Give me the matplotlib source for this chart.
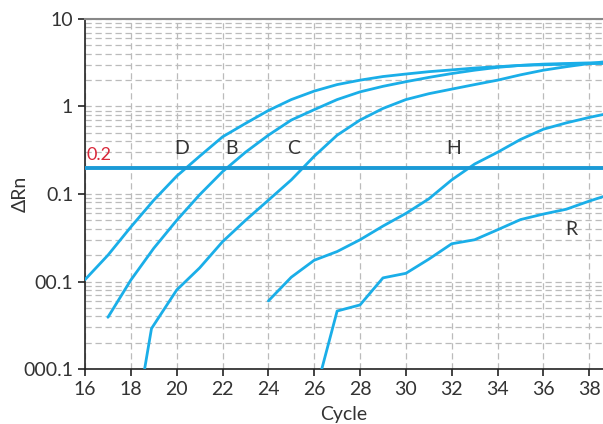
import matplotlib.pyplot as plt
from matplotlib.ticker import LogLocator, NullFormatter

# cycles and delta Rn values
cycles_d = [16, 17, 18, 19, 20, 21, 22, 23, 24, 25, 26, 27, 28, 29, 30, 31, 32, 33, 34, 35, 36, 37, 38, 38.7]
rn_d = [0.0105, 0.02, 0.042, 0.085, 0.16, 0.27, 0.45, 0.64, 0.9, 1.2, 1.5, 1.78, 2.0, 2.2, 2.35, 2.5,
        2.62, 2.75, 2.85, 2.95, 3.0, 3.05, 3.1, 3.1]

cycles_b = [17, 18, 19, 20, 21, 22, 23, 24, 25, 26, 27, 28, 29, 30, 31, 32, 33, 34, 35, 36, 37, 38, 38.7]
rn_b = [0.0039, 0.0104, 0.024, 0.05, 0.098, 0.18, 0.3, 0.47, 0.7, 0.92, 1.2, 1.47, 1.7, 1.92, 2.15, 2.38,
        2.6, 2.8, 2.95, 3.05, 3.1, 3.15, 3.15]

cycles_c = [18.6, 18.9, 20, 21, 22, 23, 24, 25, 26, 27, 28, 29, 30, 31, 32, 33, 34, 35, 36, 37, 38, 38.7]
rn_c = [0.001, 0.0029, 0.008, 0.0143, 0.0285, 0.05, 0.085, 0.145, 0.27, 0.47, 0.7, 0.95, 1.2, 1.4, 1.58,
        1.78, 2.0, 2.3, 2.6, 2.85, 3.1, 3.25]

cycles_h = [24, 25, 26, 27, 28, 29, 30, 31, 32, 33, 34, 35, 36, 37, 38, 38.7]
rn_h = [0.006, 0.0112, 0.0175, 0.022, 0.03, 0.043, 0.06, 0.088, 0.145, 0.22, 0.3, 0.42, 0.55, 0.65,
        0.75, 0.82]

cycles_r = [26.33, 27, 28, 29, 30, 31, 32, 33, 34, 35, 36, 37, 38, 38.7]
rn_r = [0.001, 0.0046, 0.0054, 0.011, 0.0124, 0.018, 0.027, 0.030, 0.039, 0.051, 0.059, 0.067, 0.083, 0.095]

threshold = 0.2

curve_labels = ["D", "B", "C", "H", "R"]
label_x = [20.2, 22.4, 25.1, 32.1, 37.2]
label_y = [0.33, 0.33, 0.33, 0.33, 0.039]

y_ticks = [0.001, 0.01, 0.1, 1, 10]
y_tick_labels = ["000.1", "00.1", "0.1", "1", "10"]
x_ticks = list(range(16, 39, 2))

plt.rcParams["font.family"] = ["Lato", "DejaVu Sans"]

fig = plt.figure(figsize=(6.03, 4.24), dpi=100)
ax = fig.add_axes([0.141, 0.1297, 0.859, 0.8255])

line_col = "#1aaee8"
for cx, cy in [(cycles_d, rn_d), (cycles_b, rn_b), (cycles_c, rn_c), (cycles_h, rn_h), (cycles_r, rn_r)]:
    ax.plot(cx, cy, color=line_col, lw=2, solid_capstyle="round", zorder=3)

ax.axhline(threshold, color="#1b9ad6", lw=2.8, zorder=4)
ax.text(16.05, threshold * 1.12, "0.2", color="#d8283a", fontsize=13, va="bottom", ha="left")

for lab, lx, ly in zip(curve_labels, label_x, label_y):
    ax.text(lx, ly, lab, fontsize=14, color="#333333", ha="center", va="center")

ax.set_yscale("log")
ax.set_ylim(0.001, 10)
ax.set_xlim(16, 38.6)
ax.set_yticks(y_ticks)
ax.set_yticklabels(y_tick_labels)
ax.yaxis.set_minor_locator(LogLocator(base=10, subs=range(2, 10)))
ax.yaxis.set_minor_formatter(NullFormatter())
ax.set_xticks(x_ticks)

ax.grid(True, which="both", axis="y", color="#bbbbbb", ls=(0, (5, 3)), lw=0.9)
ax.grid(True, which="major", axis="x", color="#bbbbbb", ls=(0, (5, 3)), lw=0.9)
ax.set_axisbelow(True)

ax.tick_params(which="major", length=5, width=1.2, color="#222222", labelsize=14, labelcolor="#333333")
ax.tick_params(which="minor", length=0)

ax.spines["right"].set_visible(False)
ax.spines["top"].set_color("#888888")
ax.spines["top"].set_linewidth(1.5)
ax.spines["left"].set_color("#222222")
ax.spines["bottom"].set_color("#222222")
ax.spines["left"].set_linewidth(1.2)
ax.spines["bottom"].set_linewidth(1.2)

ax.set_xlabel("Cycle", fontsize=14, color="#333333", labelpad=6)
ax.set_ylabel("ΔRn", fontsize=14, color="#333333")
ax.yaxis.set_label_coords(-0.108, 0.5)

fig.savefig("out.png", dpi=100)
